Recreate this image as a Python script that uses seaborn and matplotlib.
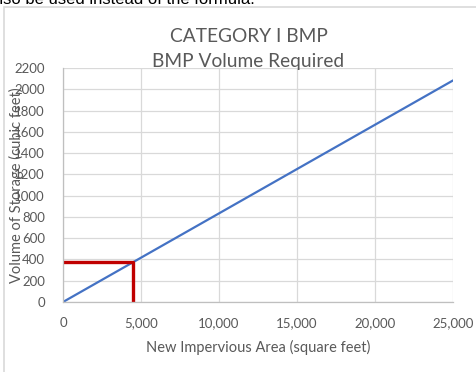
import matplotlib
matplotlib.use("Agg")
import matplotlib.pyplot as plt
import seaborn as sns
import pandas as pd
from matplotlib.ticker import MultipleLocator, FuncFormatter
from matplotlib.patches import Rectangle

# Data
area = [0, 25000]
volume = [0, 2083]
marker_x = [0, 4500, 4500]
marker_y = [375, 375, 0]
title_lines = ["CATEGORY I BMP", "BMP Volume Required"]
x_label = "New Impervious Area (square feet)"
y_label = "Volume of Storage (cubic feet)"

sns.set_theme(style="white")
plt.rcParams['font.family'] = ['Lato', 'DejaVu Sans']

fig = plt.figure(figsize=(4.77, 3.72), dpi=100)
ax = fig.add_axes([63/477, 70/372, 390/477, 234/372])

df_line = pd.DataFrame({"area": area, "volume": volume})
df_mark = pd.DataFrame({"x": marker_x, "y": marker_y})
sns.lineplot(data=df_line, x="area", y="volume", ax=ax, color="#4472C4", linewidth=1.6)
sns.lineplot(data=df_mark, x="x", y="y", ax=ax, color="#C00000", linewidth=2.4, sort=False, estimator=None)

ax.set_xlim(0, 25000)
ax.set_ylim(0, 2200)
ax.xaxis.set_major_locator(MultipleLocator(5000))
ax.xaxis.set_minor_locator(MultipleLocator(1000))
ax.yaxis.set_major_locator(MultipleLocator(200))
ax.yaxis.set_minor_locator(MultipleLocator(50))
ax.xaxis.set_major_formatter(FuncFormatter(lambda v, p: f"{int(v):,}"))
ax.grid(True, which="major", color="#D9D9D9", linewidth=0.9)
ax.set_axisbelow(True)
for s in ["top", "right"]:
    ax.spines[s].set_visible(False)
for s in ["left", "bottom"]:
    ax.spines[s].set_color("#BFBFBF")
    ax.spines[s].set_linewidth(0.9)
ax.tick_params(axis="both", which="major", length=0, labelsize=9.5, labelcolor="#595959")
ax.tick_params(axis="x", which="major", pad=11)
ax.tick_params(axis="y", which="major", pad=13)
ax.tick_params(axis="both", which="minor", length=3, direction="in", color="#BFBFBF", width=0.8)

ax.set_xlabel(x_label, fontsize=10.5, color="#595959", labelpad=8)
ax.set_ylabel(y_label, fontsize=10.5, color="#595959")
ax.yaxis.set_label_coords(-0.1, 0.5)

fig.text(0.5 + 10/477, 1 - 36/372, title_lines[0], ha="center", va="center", fontsize=13.8, color="#595959")
fig.text(0.5 + 10/477, 1 - 62/372, title_lines[1], ha="center", va="center", fontsize=13.8, color="#595959")

fig.patches.append(Rectangle((4/477, -0.1), 1.2, 1.1 - 7/372, transform=fig.transFigure,
                             fill=False, edgecolor="#D9D9D9", linewidth=1.2))
fig.text(-0.02, 1.0, "also be used instead of the formula.", ha="left", va="center",
         fontsize=12, color="black", family=["Liberation Sans", "DejaVu Sans"])

fig.savefig("out.png", dpi=100)
